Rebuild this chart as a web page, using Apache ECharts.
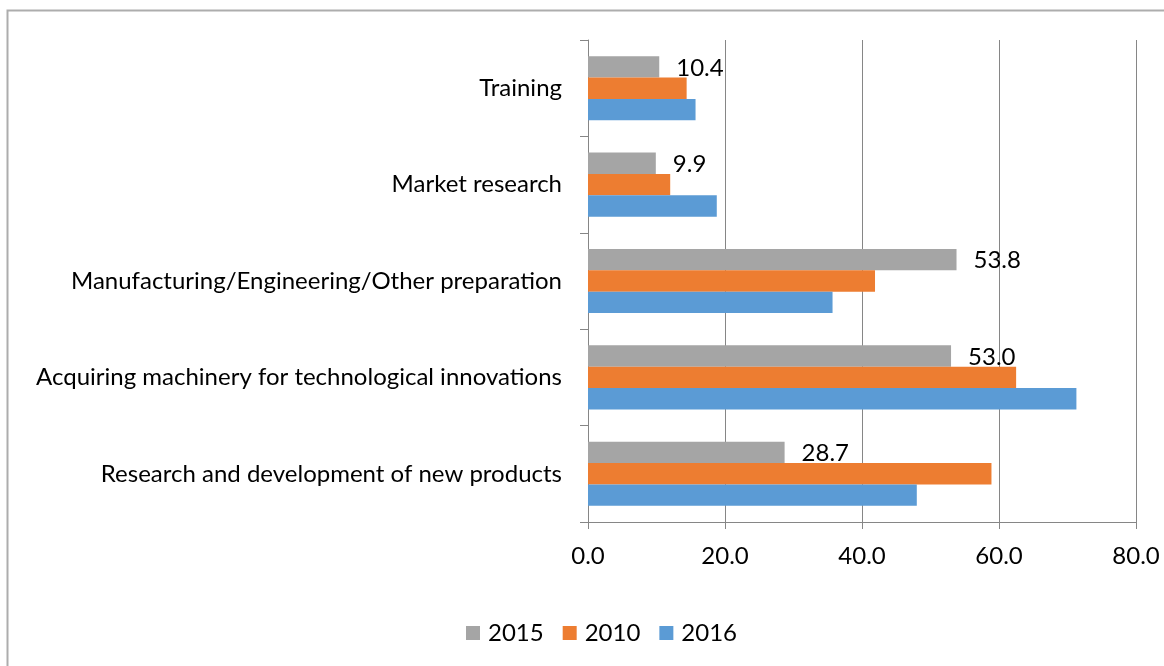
<!DOCTYPE html>
<html>
<head>
<meta charset="utf-8">
<script src="https://cdn.jsdelivr.net/npm/echarts@6/dist/echarts.min.js"></script>
<style>
  html, body { margin: 0; padding: 0; background: #fff; }
  #chart { width: 1164px; height: 666px; }
</style>
</head>
<body>
<div id="chart"></div>
<script>
// categories, bottom to top
const categories = [
  'Research and development of new products',
  'Acquiring machinery for technological innovations',
  'Manufacturing/Engineering/Other preparation',
  'Market research',
  'Training'
]
const values2015 = [28.7, 53.0, 53.8, 9.9, 10.4]
const values2010 = [58.9, 62.5, 41.9, 12.0, 14.4]
const values2016 = [48.0, 71.3, 35.7, 18.8, 15.7]
const xTicks = [0, 20, 40, 60, 80]

const font = 'Lato, "Liberation Sans", sans-serif'
const chart = echarts.init(document.getElementById('chart'))

const option = {
  animation: false,
  textStyle: { fontFamily: font },
  graphic: [{
    type: 'rect',
    shape: { x: 7.5, y: 10.5, width: 1200, height: 700 },
    style: { fill: 'none', stroke: '#adadad', lineWidth: 2 },
    silent: true
  }],
  grid: { left: 588, right: 28, top: 40, bottom: 144 },
  legend: {
    data: ['2015', '2010', '2016'],
    top: 616,
    left: 461,
    itemWidth: 14,
    itemHeight: 14,
    itemGap: 19,
    icon: 'rect',
    textStyle: { fontSize: 24, color: '#000', fontFamily: font, padding: [0, 0, 0, 3] }
  },
  xAxis: {
    type: 'value',
    min: xTicks[0],
    max: xTicks[xTicks.length - 1],
    interval: 20,
    axisLine: { show: true, lineStyle: { color: '#868686', width: 1 } },
    axisTick: { show: true, length: 7, lineStyle: { color: '#868686' } },
    splitLine: { show: true, lineStyle: { color: '#868686', width: 1 } },
    axisLabel: {
      fontSize: 24, color: '#000', margin: 22,
      formatter: v => v.toFixed(1)
    }
  },
  yAxis: {
    type: 'category',
    data: categories,
    axisLine: { show: true, lineStyle: { color: '#868686', width: 1 } },
    axisTick: { show: true, length: 8, lineStyle: { color: '#868686' } },
    axisLabel: { fontSize: 24, color: '#000', margin: 26 }
  },
  series: [
    {
      name: '2015', type: 'bar', data: values2015,
      itemStyle: { color: '#A5A5A5' },
      barGap: '0%', barCategoryGap: '33.5%',
      label: {
        show: true, position: 'right', distance: 17, offset: [0, 1],
        fontSize: 24, color: '#000', fontFamily: font,
        formatter: p => p.value.toFixed(1)
      }
    },
    {
      name: '2010', type: 'bar', data: values2010,
      itemStyle: { color: '#ED7D31' },
      barGap: '0%', barCategoryGap: '33.5%'
    },
    {
      name: '2016', type: 'bar', data: values2016,
      itemStyle: { color: '#5B9BD5' },
      barGap: '0%', barCategoryGap: '33.5%'
    }
  ]
}
option && chart.setOption(option)
</script>
</body>
</html>
